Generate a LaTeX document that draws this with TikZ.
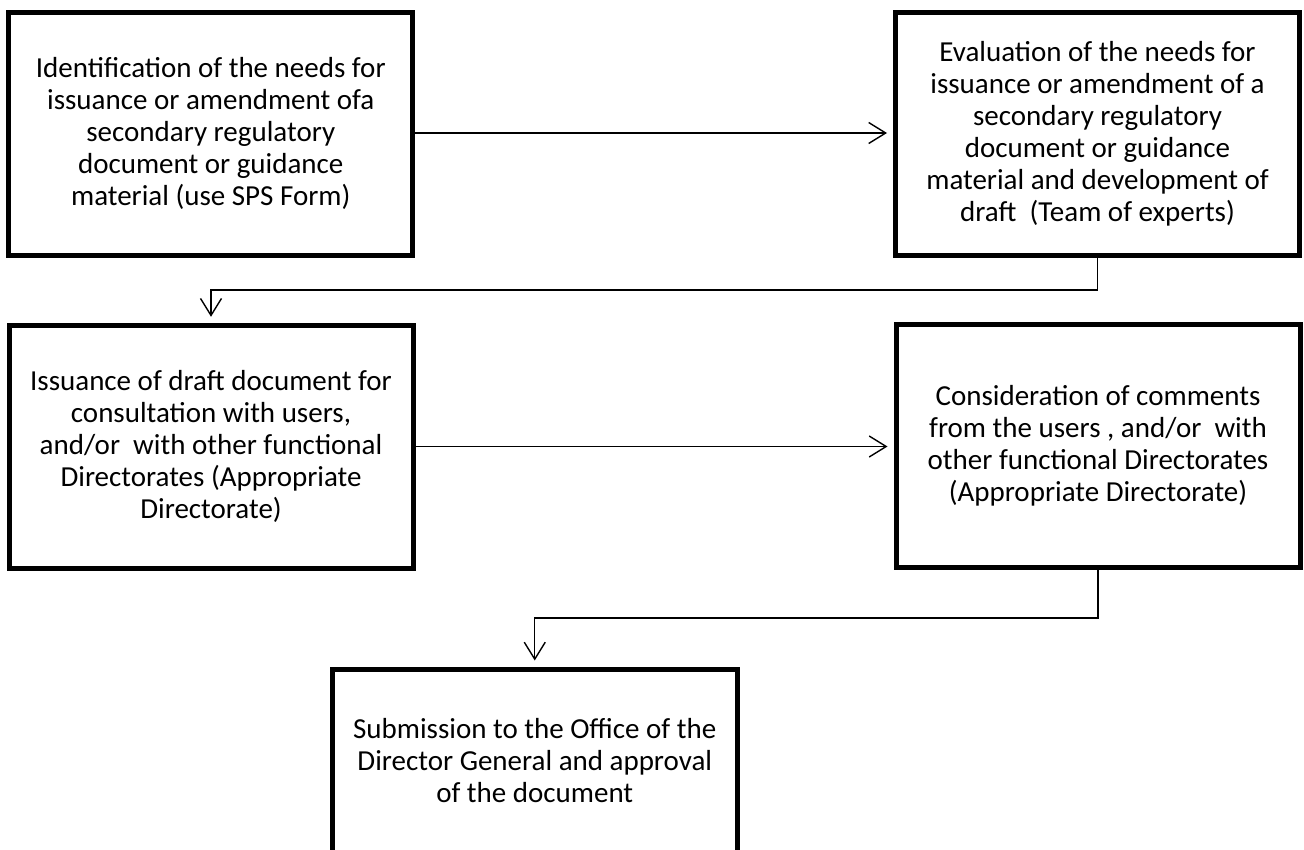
\documentclass[tikz,border=0pt]{standalone}
\usepackage{fontspec}
\setmainfont{Carlito}
\usetikzlibrary{arrows.meta}
\begin{document}
\begin{tikzpicture}[x=1pt,y=-1pt,
  box/.style={draw=black, line width=5pt, rectangle, inner sep=0pt,
    minimum width=404pt, minimum height=243pt, align=center,
    font=\fontsize{29}{32}\selectfont},
  boxtext/.style={inner sep=0pt, align=center, font=\fontsize{29}{32}\selectfont},
  conn/.style={draw=black, line width=1.4pt,
    -{Straight Barb[length=17pt,width=21pt]}, shorten >=6pt}]
\useasboundingbox (0,0) rectangle (1304,849);
\fill[white] (0,0) rectangle (1304,849);
\clip (0,0) rectangle (1304,849);

\node[box] (b1) at (210.75,133.5) {Identification of the needs for\\issuance or amendment ofa\\secondary regulatory\\document or guidance\\material (use SPS Form)};
\node[box] (b2) at (1097.5,133.75) {Evaluation of the needs for\\issuance or amendment of a\\secondary regulatory\\document or guidance\\material and development of\\draft~ (Team of experts)};
\node[box] (b3) at (211,446.75) {Issuance of draft document for\\consultation with users,\\and/or~ with other functional\\Directorates (Appropriate\\Directorate)};
\node[box] (b4) at (1098,446) {Consideration of comments\\from the users , and/or~ with\\other functional Directorates\\(Appropriate Directorate)};
\node[box, minimum width=405.5pt] (b5) at (534.75,790.5) {};
\node[boxtext] (t5) at (534.75,761) {Submission to the Office of the\\Director General and approval\\of the document};

\coordinate (j1) at (0,290);
\coordinate (j2) at (0,618);

\draw[conn] (b1.east |- 0,133) -- (b2.west |- 0,133);
\draw[conn] (b2.south) -- (b2.south |- j1) -| (b3.north);
\draw[conn] (b3.east |- 0,446.5) -- (b4.west |- 0,446.5);
\draw[conn] (b4.south) -- (b4.south |- j2) -| (b5.north);
\end{tikzpicture}
\end{document}
